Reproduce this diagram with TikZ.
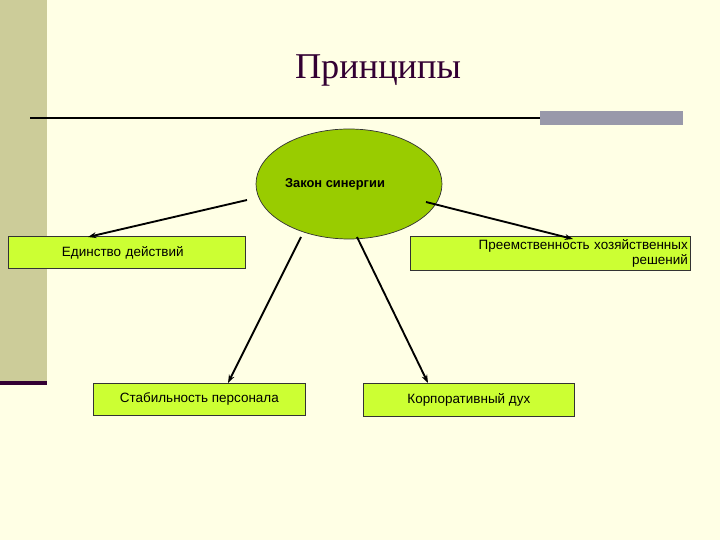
\documentclass[tikz,border=0pt]{standalone}
\usepackage{fontspec}
\setmainfont{Liberation Sans}
\newfontfamily\titlefont{Liberation Serif}
\usetikzlibrary{arrows.meta}
\definecolor{bg}{HTML}{FFFFE5}
\definecolor{sidebar}{HTML}{CCCC99}
\definecolor{dpurple}{HTML}{330033}
\definecolor{lime}{HTML}{CCFF33}
\definecolor{ellg}{HTML}{99CC00}
\definecolor{greybar}{HTML}{9999AA}
\begin{document}
\begin{tikzpicture}[x=0.03cm,y=-0.03cm,
  box/.style={draw=black!80,fill=lime,line width=0.6pt,font=\fontsize{11.5}{13}\selectfont,align=center,inner sep=0pt},
  arr/.style={line width=1.6pt,-{Stealth[length=7pt,width=5pt]}}]
\fill[bg] (0,0) rectangle (720,540);
\useasboundingbox (0,0) rectangle (720,540);
\fill[sidebar] (0,0) rectangle (47,381);
\fill[dpurple] (0,381) rectangle (47,385);
\node[text=dpurple,font=\titlefont\fontsize{31}{36}\selectfont] (title) at (378,70) {Принципы};
\draw[line width=1.6pt] (30,118) -- (540,118);
\fill[greybar] (540,111) rectangle (683,125);
\draw[fill=ellg,draw=black!80,line width=0.6pt] (349,184) ellipse [x radius=93,y radius=55];
\node[font=\bfseries\fontsize{11}{13}\selectfont] (e) at (335,184) {Закон синергии};
\coordinate (c) at (349,184);
\node[box,minimum width=237*0.03cm,minimum height=32*0.03cm,anchor=north west,text width=200*0.03cm,align=left] (b1) at (8,236) {\hspace*{30pt}Единство действий};
\node[box,minimum width=280*0.03cm,minimum height=34*0.03cm,anchor=north west,text width=275*0.03cm,align=right] (b2) at (410,236) {Преемственность хозяйственных\\решений\hspace*{105pt}};
\node[box,minimum width=212*0.03cm,minimum height=32*0.03cm,anchor=north west] (b3) at (93,383) {Стабильность персонала};
\node[box,minimum width=211*0.03cm,minimum height=33*0.03cm,anchor=north west] (b4) at (363,383) {Корпоративный дух};
\draw[arr] (247,200) -- (88,237);
\draw[arr] (301,237) -- (228,383);
\draw[arr] (357,237) -- (428,383);
\draw[arr] (426,202) -- (573,239);
\end{tikzpicture}
\end{document}
